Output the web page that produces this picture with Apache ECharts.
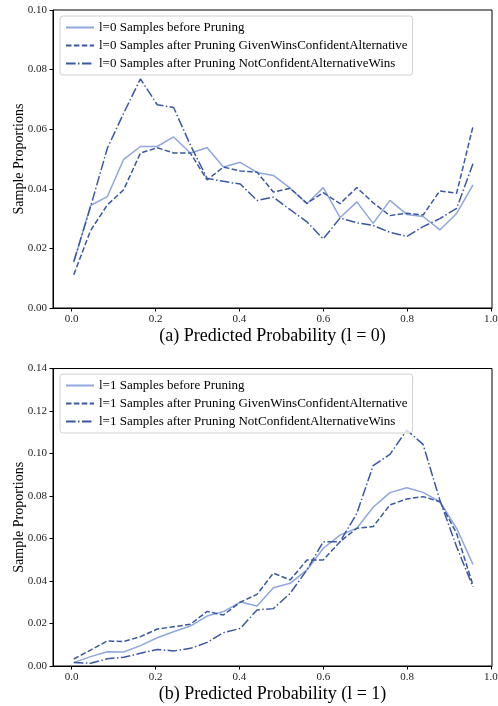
<!DOCTYPE html>
<html>
<head>
<meta charset="utf-8">
<script src="https://cdn.jsdelivr.net/npm/echarts@6/dist/echarts.min.js"></script>
<style>
  html, body { margin: 0; padding: 0; background: #fff; }
  #main { width: 498px; height: 706px; }
</style>
</head>
<body>
<div id="main"></div>
<script>
// bin centres (predicted probability)
const probs = [0.005, 0.045, 0.085, 0.124, 0.164, 0.204, 0.243, 0.283, 0.323, 0.362, 0.402, 0.442, 0.481,
  0.521, 0.561, 0.600, 0.640, 0.680, 0.719, 0.759, 0.799, 0.838, 0.878, 0.918, 0.957]

// (a) l = 0
const l0Before = [0.0153, 0.0344, 0.0374, 0.0499, 0.0542, 0.0542, 0.0574, 0.0520, 0.0538, 0.0473, 0.0489, 0.0455, 0.0445,
  0.0402, 0.0350, 0.0404, 0.0303, 0.0356, 0.0284, 0.0361, 0.0314, 0.0307, 0.0262, 0.0317, 0.0413]
const l0Given = [0.0112, 0.0260, 0.0346, 0.0397, 0.0520, 0.0538, 0.0520, 0.0520, 0.0430, 0.0473, 0.0460, 0.0456, 0.0389,
  0.0402, 0.0351, 0.0387, 0.0350, 0.0404, 0.0353, 0.0310, 0.0318, 0.0312, 0.0393, 0.0385, 0.0609]
const l0NotConf = [0.0156, 0.0340, 0.0536, 0.0654, 0.0769, 0.0682, 0.0673, 0.0547, 0.0435, 0.0425, 0.0416, 0.0361, 0.0372,
  0.0330, 0.0289, 0.0232, 0.0302, 0.0286, 0.0277, 0.0254, 0.0240, 0.0273, 0.0300, 0.0334, 0.0484]

// (b) l = 1
const l1Before = [0.0016, 0.0044, 0.0067, 0.0066, 0.0096, 0.0133, 0.0161, 0.0188, 0.0235, 0.0256, 0.0301, 0.0282, 0.0368,
  0.0389, 0.0452, 0.0554, 0.0616, 0.0648, 0.0747, 0.0816, 0.0839, 0.0817, 0.0773, 0.0648, 0.0478]
const l1Given = [0.0033, 0.0075, 0.0118, 0.0115, 0.0138, 0.0174, 0.0185, 0.0196, 0.0257, 0.0240, 0.0300, 0.0337, 0.0437,
  0.0405, 0.0499, 0.0499, 0.0585, 0.0648, 0.0656, 0.0758, 0.0786, 0.0797, 0.0773, 0.0624, 0.0381]
const l1NotConf = [0.0016, 0.0013, 0.0034, 0.0041, 0.0060, 0.0078, 0.0071, 0.0083, 0.0111, 0.0157, 0.0177, 0.0264, 0.0270,
  0.0342, 0.0452, 0.0585, 0.0585, 0.0718, 0.0943, 0.0996, 0.1110, 0.1043, 0.0781, 0.0561, 0.0373]

const xTicks = [0, 0.2, 0.4, 0.6, 0.8, 1.0]

const lightBlue = '#8ea7df'
const darkBlue = '#3a58a2'
const font = 'Liberation Serif, Times New Roman, serif'

function pairs(ys) {
  return probs.map((x, i) => [x, ys[i]])
}

function makeSeries(name, ys, idx, color, type) {
  return {
    name: name,
    type: 'line',
    xAxisIndex: idx,
    yAxisIndex: idx,
    data: pairs(ys),
    symbol: 'none',
    smooth: false,
    color: color,
    lineStyle: { color: color, width: 1.5, type: type }
  }
}

const dashed = [5.5, 2.4]
const dashDot = [9.6, 2.4, 1.5, 2.4]

function xAxisCfg(idx, title) {
  return {
    type: 'value',
    gridIndex: idx,
    min: -0.0446,
    max: 1.0024,
    name: title,
    nameLocation: 'middle',
    nameGap: 19,
    nameTextStyle: { fontFamily: font, fontSize: 18, color: '#000' },
    axisLine: { show: true, onZero: false, lineStyle: { color: '#000', width: 1 } },
    axisTick: { show: true, length: 3.5, customValues: xTicks, lineStyle: { color: '#000' } },
    axisLabel: {
      customValues: xTicks,
      fontFamily: font, fontSize: 11, color: '#222', margin: 6,
      formatter: v => v.toFixed(1)
    },
    splitLine: { show: false }
  }
}

function yAxisCfg(idx, max) {
  return {
    type: 'value',
    gridIndex: idx,
    min: 0,
    max: max,
    interval: 0.02,
    name: 'Sample Proportions',
    nameLocation: 'middle',
    nameGap: 27,
    nameMoveOverlap: false,
    nameTextStyle: { fontFamily: font, fontSize: 14, color: '#000' },
    axisLine: { show: true, onZero: false, lineStyle: { color: '#000', width: 1 } },
    axisTick: { show: true, length: 3.5, lineStyle: { color: '#000' } },
    axisLabel: { fontFamily: font, fontSize: 11, color: '#222', margin: 6, formatter: v => v.toFixed(2) },
    splitLine: { show: false }
  }
}

function legendCfg(names, top) {
  return {
    data: names,
    orient: 'vertical',
    left: 60,
    top: top,
    itemWidth: 28,
    itemHeight: 10,
    itemGap: 5,
    padding: [5, 5, 5, 5],
    backgroundColor: 'rgba(255,255,255,0.8)',
    borderColor: '#d0d0d0',
    borderWidth: 1,
    borderRadius: 3,
    itemStyle: { color: 'rgba(0,0,0,0)', borderColor: 'rgba(0,0,0,0)', borderWidth: 0 },
    textStyle: { fontFamily: font, fontSize: 13, color: '#000' }
  }
}

const n0 = ['l=0 Samples before Pruning', 'l=0 Samples after Pruning GivenWinsConfidentAlternative', 'l=0 Samples after Pruning NotConfidentAlternativeWins']
const n1 = ['l=1 Samples before Pruning', 'l=1 Samples after Pruning GivenWinsConfidentAlternative', 'l=1 Samples after Pruning NotConfidentAlternativeWins']

const option = {
  animation: false,
  backgroundColor: '#fff',
  // grid border gives the box round each plot
  grid: [
    { left: 53, right: 6, top: 10, height: 298, outerBoundsMode: 'none', show: true, borderColor: '#000', borderWidth: 1, backgroundColor: 'transparent' },
    { left: 53, right: 6, top: 368.5, height: 297.5, outerBoundsMode: 'none', show: true, borderColor: '#000', borderWidth: 1, backgroundColor: 'transparent' }
  ],
  legend: [legendCfg(n0, 16), legendCfg(n1, 374)],
  xAxis: [xAxisCfg(0, '(a) Predicted Probability (l = 0)'), xAxisCfg(1, '(b) Predicted Probability (l = 1)')],
  yAxis: [yAxisCfg(0, 0.10), yAxisCfg(1, 0.14)],
  series: [
    makeSeries(n0[0], l0Before, 0, lightBlue, 'solid'),
    makeSeries(n0[1], l0Given, 0, darkBlue, dashed),
    makeSeries(n0[2], l0NotConf, 0, darkBlue, dashDot),
    makeSeries(n1[0], l1Before, 1, lightBlue, 'solid'),
    makeSeries(n1[1], l1Given, 1, darkBlue, dashed),
    makeSeries(n1[2], l1NotConf, 1, darkBlue, dashDot)
  ]
}

let chart = echarts.init(document.getElementById('main'))
chart.setOption(option)
</script>
</body>
</html>
